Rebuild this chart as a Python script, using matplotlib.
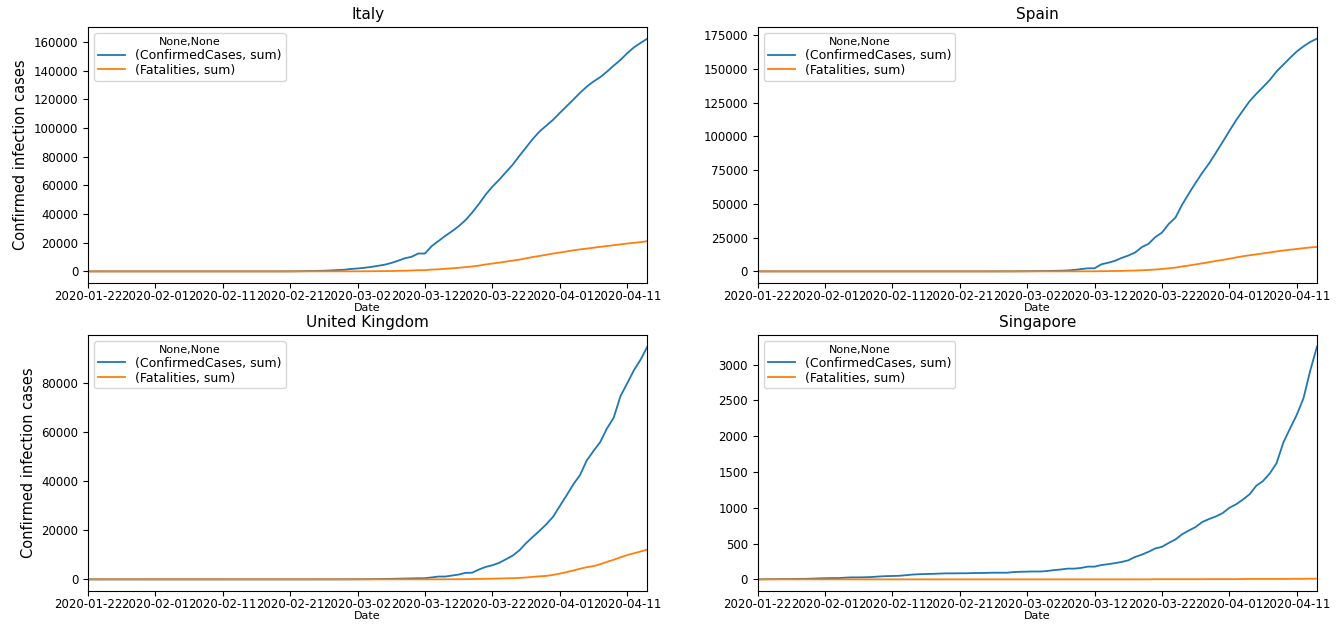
import matplotlib
matplotlib.use("Agg")
import matplotlib.pyplot as plt
import numpy as np
import pandas as pd

# daily cumulative totals, 2020-01-22 .. 2020-04-14
dates = pd.date_range("2020-01-22", "2020-04-14").strftime("%Y-%m-%d").tolist()

italy_cases = [
    0, 0, 0, 0, 0, 0, 0, 0, 0, 2,
    2, 2, 2, 2, 2, 3, 3, 3, 3, 3, 3, 3, 3, 3, 3, 3, 3, 3, 3, 3,
    20, 62, 155, 229, 322, 453, 655, 888, 1128,
    1694, 2036, 2502, 3089, 3858, 4636, 5883, 7375, 9172, 10149,
    12462, 12462, 17660, 21157, 24747, 27980, 31506, 35713, 41035, 47021,
    53578, 59138, 63927, 69176, 74386, 80589, 86498, 92472, 97689, 101739,
    105792,
    110574, 115242, 119827, 124632, 128948, 132547, 135586, 139422, 143626,
    147577, 152271, 156363, 159516, 162488,
]
italy_deaths = [
    0, 0, 0, 0, 0, 0, 0, 0, 0, 0,
    0, 0, 0, 0, 0, 0, 0, 0, 0, 0, 0, 0, 0, 0, 0, 0, 0, 0, 0, 0,
    1, 2, 3, 7, 10, 12, 17, 21, 29,
    34, 52, 79, 107, 148, 197, 233, 366, 463, 631,
    827, 827, 1266, 1441, 1809, 2158, 2503, 2978, 3405, 4032,
    4825, 5476, 6077, 6820, 7503, 8165, 9134, 10023, 10779, 11591,
    12428,
    13155, 13915, 14681, 15362, 15887, 16523, 17127, 17669, 18279,
    18849, 19468, 19899, 20465, 21067,
]

spain_cases = [
    0, 0, 0, 0, 0, 0, 0, 0, 0, 0,
    1, 1, 1, 1, 1, 1, 1, 1, 2, 2, 2, 2, 2, 2, 2, 2, 2, 2, 2, 2,
    2, 2, 2, 2, 6, 13, 15, 32, 45,
    84, 120, 165, 222, 259, 400, 500, 673, 1073, 1695,
    2277, 2277, 5232, 6391, 7798, 9942, 11748, 13910, 17963, 20410,
    25374, 28768, 35136, 39885, 49515, 57786, 65719, 73235, 80110, 87956,
    95923,
    104118, 112065, 119199, 126168, 131646, 136675, 141942, 148220, 153222,
    158273, 163027, 166831, 170099, 172541,
]
spain_deaths = [
    0, 0, 0, 0, 0, 0, 0, 0, 0, 0,
    0, 0, 0, 0, 0, 0, 0, 0, 0, 0, 0, 0, 0, 0, 0, 0, 0, 0, 0, 0,
    0, 0, 0, 0, 0, 0, 0, 0, 0,
    0, 0, 1, 2, 3, 5, 10, 17, 28, 35,
    54, 55, 133, 195, 289, 342, 533, 623, 830, 1043,
    1375, 1772, 2311, 2808, 3647, 4365, 5138, 5982, 6803, 7716,
    8464,
    9387, 10348, 11198, 11947, 12641, 13341, 14045, 14792, 15447,
    16081, 16606, 17209, 17756, 18056,
]

uk_cases = [
    0, 0, 0, 0, 0, 0, 0, 0, 0, 2,
    2, 2, 2, 2, 2, 3, 3, 3, 3, 8, 8, 8, 9, 9, 9, 9, 9, 9, 9, 9,
    9, 9, 9, 9, 13, 13, 13, 20, 23,
    36, 40, 51, 86, 116, 164, 207, 274, 322, 384,
    459, 459, 802, 1144, 1145, 1551, 1960, 2642, 2716, 4014,
    5067, 5745, 6726, 8164, 9640, 11812, 14745, 17312, 19780, 22453,
    25481,
    29865, 34173, 38689, 42477, 48436, 52279, 55949, 61474, 65872,
    74605, 79865, 85206, 89570, 94845,
]
uk_deaths = [
    0, 0, 0, 0, 0, 0, 0, 0, 0, 0,
    0, 0, 0, 0, 0, 0, 0, 0, 0, 0, 0, 0, 0, 0, 0, 0, 0, 0, 0, 0,
    0, 0, 0, 0, 0, 0, 0, 0, 0,
    0, 0, 0, 0, 1, 2, 2, 3, 4, 6,
    8, 8, 8, 21, 21, 56, 56, 72, 138, 178,
    234, 282, 336, 423, 466, 580, 761, 1021, 1231, 1411,
    1793,
    2357, 2926, 3611, 4320, 4943, 5385, 6171, 7111, 7993,
    8974, 9892, 10629, 11347, 12129,
]

singapore_cases = [
    0, 1, 3, 3, 4, 5, 7, 7, 10, 13,
    16, 18, 18, 24, 28, 28, 30, 33, 40, 45, 47, 50, 58, 67, 72, 75, 77, 81, 84, 84,
    85, 85, 89, 89, 91, 93, 93, 93, 102,
    106, 108, 110, 110, 117, 130, 138, 150, 150, 160,
    178, 178, 200, 212, 226, 243, 266, 313, 345, 385,
    432, 455, 509, 558, 631, 683, 732, 802, 844, 879,
    926,
    1000, 1049, 1114, 1189, 1309, 1375, 1481, 1623, 1910,
    2108, 2299, 2532, 2918, 3252,
]
singapore_deaths = [
    0, 0, 0, 0, 0, 0, 0, 0, 0, 0,
    0, 0, 0, 0, 0, 0, 0, 0, 0, 0, 0, 0, 0, 0, 0, 0, 0, 0, 0, 0,
    0, 0, 0, 0, 0, 0, 0, 0, 0,
    0, 0, 0, 0, 0, 0, 0, 0, 0, 0,
    0, 0, 0, 0, 0, 0, 0, 0, 0, 0,
    2, 2, 2, 2, 2, 2, 2, 2, 3, 3,
    3,
    3, 3, 5, 6, 6, 6, 6, 6, 6,
    7, 8, 8, 9, 10,
]

countries = ["Italy", "Spain", "United Kingdom", "Singapore"]
cases = [italy_cases, spain_cases, uk_cases, singapore_cases]
deaths = [italy_deaths, spain_deaths, uk_deaths, singapore_deaths]
series_labels = ["(ConfirmedCases, sum)", "(Fatalities, sum)"]

fig, axes = plt.subplots(2, 2, figsize=(13.41, 6.25), dpi=100)
fig.subplots_adjust(left=0.0656, right=0.9821, top=0.9568, bottom=0.0544,
                    wspace=0.197, hspace=0.203)

x = np.arange(len(dates))
for i, ax in enumerate(axes.flat):
    ax.plot(x, cases[i], color="tab:blue", lw=1.3, label=series_labels[0])
    ax.plot(x, deaths[i], color="tab:orange", lw=1.3, label=series_labels[1])
    ax.set_xlim(0, len(dates) - 1)
    ax.set_xticks(x[::10])
    ax.set_xticklabels(dates[::10])
    ax.tick_params(labelsize=8.5)
    ax.tick_params(axis="x", pad=1.5)
    ax.set_title(countries[i], fontsize=11)
    ax.set_xlabel("Date", fontsize=8, labelpad=0)
    if i % 2 == 0:
        ax.set_ylabel("Confirmed infection cases", fontsize=10.5)
    ax.legend(loc="upper left", title="None,None", fontsize=9,
              title_fontsize=8, labelspacing=0.15, borderpad=0.3,
              handlelength=2.2)

fig.savefig("out.png", dpi=100)
